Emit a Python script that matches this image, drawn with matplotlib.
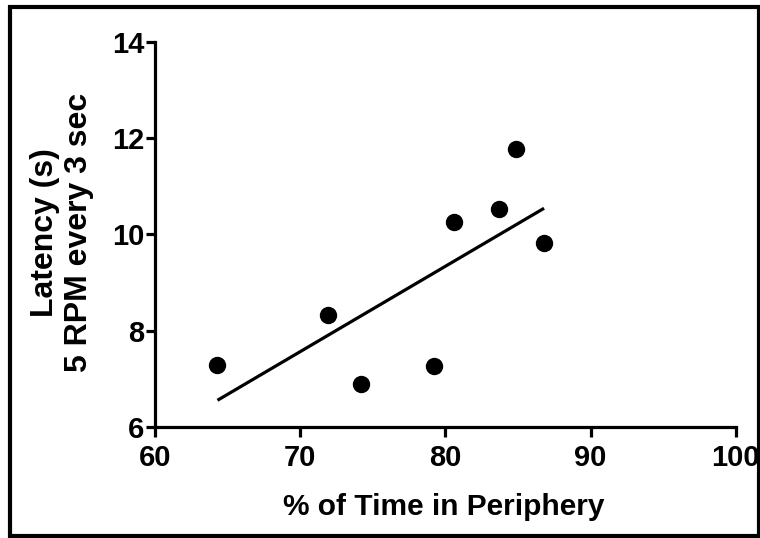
import numpy as np
import matplotlib
matplotlib.use("Agg")
import matplotlib.pyplot as plt
from matplotlib.patches import Rectangle

# Data
periphery_pct = [64.3, 71.9, 74.2, 79.2, 80.6, 83.7, 84.85, 86.8]
latency_s = [7.28, 8.33, 6.90, 7.27, 10.26, 10.52, 11.77, 9.82]
x_ticks = [60, 70, 80, 90, 100]
y_ticks = [6, 8, 10, 12, 14]
x_label = "% of Time in Periphery"
y_label = "Latency (s)\n5 RPM every 3 sec"

plt.rcParams['font.family'] = ['Liberation Sans', 'DejaVu Sans']
plt.rcParams['font.weight'] = 'bold'

fig = plt.figure(figsize=(7.6, 5.38), dpi=100)
ax = fig.add_axes([0.204, 0.2063, 0.764, 0.7157])

x = np.array(periphery_pct)
y = np.array(latency_s)
ax.plot(x, y, 'o', color='black', markersize=11.5, zorder=3, clip_on=False)

slope, intercept = np.polyfit(x, y, 1)
xf = np.array([x.min(), x.max()])
ax.plot(xf, slope * xf + intercept, color='black', linewidth=2.3, solid_capstyle='butt')

ax.set_xlim(60, 100)
ax.set_ylim(6, 14)
ax.set_xticks(x_ticks)
ax.set_yticks(y_ticks)
ax.set_xticklabels([str(v) for v in x_ticks])
ax.set_yticklabels([str(v) for v in y_ticks])

for s in ['top', 'right']:
    ax.spines[s].set_visible(False)
for s in ['left', 'bottom']:
    ax.spines[s].set_linewidth(2.3)
    ax.spines[s].set_capstyle('projecting')

ax.tick_params(axis='both', direction='out', width=2.3, color='black', labelsize=21)
ax.tick_params(axis='x', length=7.5, pad=5)
ax.tick_params(axis='y', length=6.5, pad=1)
for lab in ax.get_xticklabels() + ax.get_yticklabels():
    lab.set_fontweight('bold')

ax.set_xlabel(x_label, fontsize=21.5, fontweight='bold')
ax.xaxis.set_label_coords(0.497, -0.172)
ax.set_ylabel(y_label, fontsize=23, fontweight='bold', linespacing=1.2)
ax.yaxis.set_label_coords(-0.160, 0.505)
ax.yaxis.label.set_va('center')

# outer frame
fig.patches.append(Rectangle((10 / 760, 2 / 538), 749 / 760, 529 / 538,
                             transform=fig.transFigure, fill=False,
                             edgecolor='black', linewidth=3))

fig.savefig("out.png", dpi=100)
